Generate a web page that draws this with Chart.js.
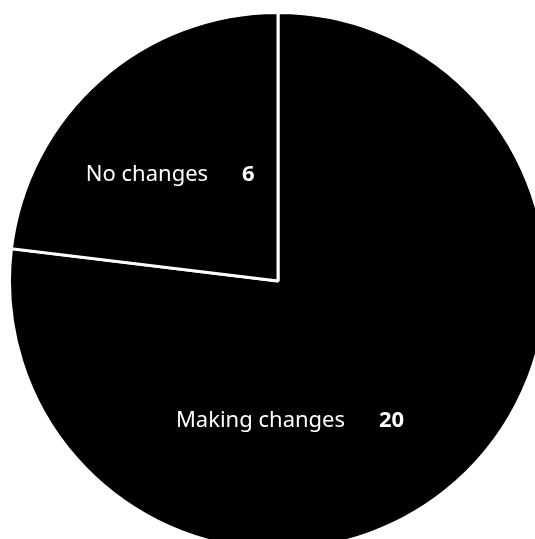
<!DOCTYPE html>
<html>
<head>
<meta charset="utf-8">
<script src="https://cdn.jsdelivr.net/npm/chart.js@4"></script>
<style>
  html, body { margin: 0; padding: 0; background: #fff; overflow: hidden; width: 535px; height: 539px; }
  #wrap { position: absolute; left: 8px; top: 11px; width: 540px; height: 540px; }
</style>
</head>
<body>
<div id="wrap"><canvas id="chart"></canvas></div>
<script>
const labels = ['Making changes', 'No changes'];
const counts = [20, 6];
// where each label sits, as a fraction of the radius from the centre
const labelSpots = [[0.313, 0.521], [-0.197, -0.397]];

const FONT = '"Noto Sans", sans-serif';

const sliceLabels = {
    id: 'sliceLabels',
    afterDatasetsDraw(chart) {
        const ctx = chart.ctx;
        const arcs = chart.getDatasetMeta(0).data;
        ctx.save();
        ctx.fillStyle = '#fff';
        ctx.textBaseline = 'middle';
        arcs.forEach((arc, i) => {
            const r = arc.outerRadius;
            const x = arc.x + labelSpots[i][0] * r;
            const y = arc.y + labelSpots[i][1] * r;
            ctx.font = `400 22px ${FONT}`;
            ctx.textAlign = 'right';
            ctx.fillText(labels[i], x - 17, y);
            ctx.font = `700 22px ${FONT}`;
            ctx.textAlign = 'left';
            ctx.fillText(String(counts[i]), x + 17, y);
        });
        ctx.restore();
    }
};

new Chart(document.getElementById('chart'), {
    type: 'pie',
    data: {
        labels: labels,
        datasets: [{
            data: counts,
            backgroundColor: '#000',
            borderColor: '#fff',
            borderWidth: 3,
            hoverOffset: 0
        }]
    },
    options: {
        responsive: true,
        maintainAspectRatio: false,
        animation: false,
        layout: { padding: 0 },
        plugins: {
            legend: { display: false },
            tooltip: { enabled: false }
        }
    },
    plugins: [sliceLabels]
});
</script>
</body>
</html>
